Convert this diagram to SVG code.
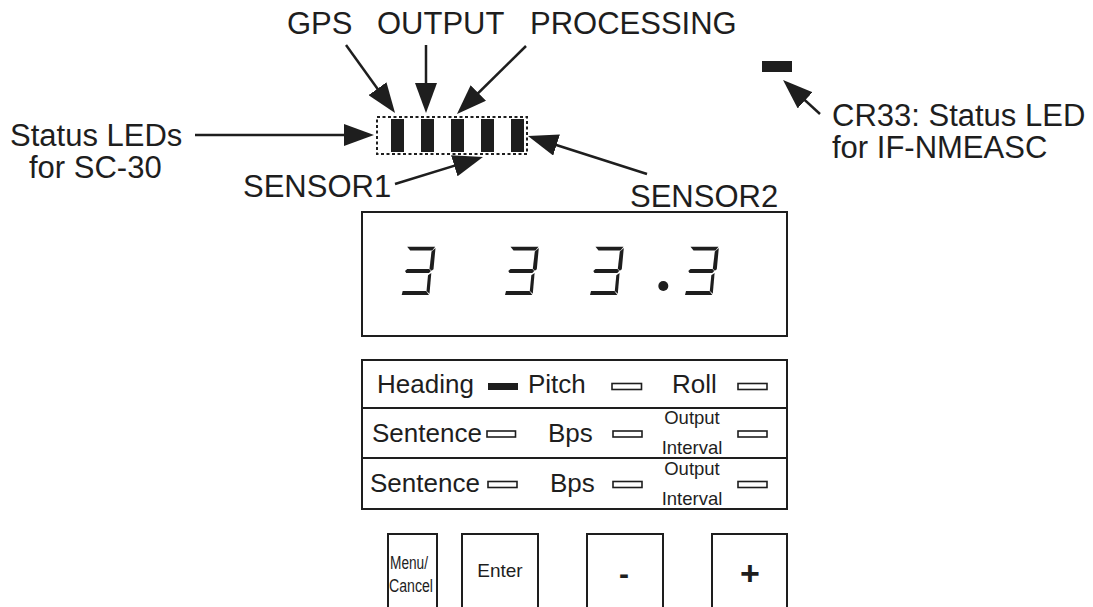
<svg xmlns="http://www.w3.org/2000/svg" width="1093" height="607" viewBox="0 0 1093 607">
<style>
text{font-family:"Liberation Sans",Arial,Helvetica,sans-serif;fill:#1e1e1e}
.big{font-size:31px}
.row{font-size:26px}
.sm{font-size:18.5px}
.box{fill:none;stroke:#1e1e1e;stroke-width:2}
.led{fill:#fff;stroke:#1e1e1e;stroke-width:1.6}
.ledf{fill:#1e1e1e}
.conn line{stroke:#1e1e1e;stroke-width:2.5;marker-end:url(#ah)}
</style>
<defs>
<marker id="ah" markerUnits="userSpaceOnUse" markerWidth="30" markerHeight="22" viewBox="0 0 30 22" refX="20" refY="11" orient="auto">
<path d="M0,0 L30,11 L0,22 z" fill="#1e1e1e"/>
</marker>
<g id="d3" fill="#1e1e1e">
<polygon points="5.5,0 33.5,0 30.5,3.8 8.5,3.8"/>
<polygon points="33.8,1.2 31.8,22.5 29.8,24 27.8,22 29.8,4.8"/>
<polygon points="5.5,22.2 27.5,22.2 29.2,24.2 27.3,26.2 4.5,26.2 3.3,24.2"/>
<polygon points="29.6,26.2 27.8,47 24.8,44.2 26.3,28.5"/>
<polygon points="1,44.4 24.5,44.4 27.3,48.2 0,48.2"/>
</g>
</defs>
<rect width="1093" height="607" fill="#fff"/>

<g id="labels-top">
<text class="big" x="287" y="34">GPS</text>
<text class="big" x="377" y="34">OUTPUT</text>
<text class="big" x="530" y="34">PROCESSING</text>
</g>

<g id="sc30-leds">
<rect x="377" y="117" width="150" height="37" fill="none" stroke="#1e1e1e" stroke-width="2" stroke-dasharray="3 2.5"/>
<rect class="ledf" x="391" y="119" width="13" height="33"/>
<rect class="ledf" x="421" y="119" width="13" height="33"/>
<rect class="ledf" x="451" y="119" width="13" height="33"/>
<rect class="ledf" x="481" y="119" width="13" height="33"/>
<rect class="ledf" x="511" y="119" width="13" height="33"/>
</g>

<g id="label-status">
<text class="big" x="10" y="146">Status LEDs</text>
<text class="big" x="29" y="178">for SC-30</text>
</g>

<g id="label-sensor1"><text class="big" x="243" y="197">SENSOR1</text></g>
<g id="label-sensor2"><text class="big" x="630" y="207">SENSOR2</text></g>

<g id="cr33">
<rect class="ledf" x="762" y="61" width="30" height="11"/>
<text class="big" x="832" y="126">CR33: Status LED</text>
<text class="big" x="832" y="158">for IF-NMEASC</text>
</g>

<g id="connectors" class="conn">
<line x1="346" y1="45" x2="389.2" y2="104.9"/>
<line x1="426" y1="45" x2="426" y2="103"/>
<line x1="526" y1="46" x2="464.1" y2="107"/>
<line x1="195" y1="135" x2="364" y2="135"/>
<line x1="395" y1="184" x2="473.4" y2="159.9"/>
<line x1="647" y1="174" x2="537.5" y2="139"/>
<line x1="820" y1="114" x2="790.4" y2="86.8"/>
</g>

<g id="display">
<rect class="box" x="362" y="212" width="425" height="124"/>
<use href="#d3" x="401.7" y="246.7"/>
<use href="#d3" x="505" y="246.7"/>
<use href="#d3" x="590" y="246.7"/>
<circle cx="663.3" cy="286" r="5" fill="#1e1e1e"/>
<use href="#d3" x="685" y="246.7"/>
</g>

<g id="panel">
<rect class="box" x="362" y="360" width="425" height="149"/>
<line x1="362" y1="408" x2="787" y2="408" stroke="#1e1e1e" stroke-width="2"/>
<line x1="362" y1="458" x2="787" y2="458" stroke="#1e1e1e" stroke-width="2"/>
</g>

<g id="row1">
<text class="row" x="377" y="393">Heading</text>
<rect class="ledf" x="488" y="383" width="30" height="7"/>
<text class="row" x="528" y="393">Pitch</text>
<rect class="led" x="612" y="383.5" width="29.5" height="6"/>
<text class="row" x="672" y="393">Roll</text>
<rect class="led" x="738" y="383.5" width="29" height="6"/>
</g>

<g id="row2">
<text class="row" x="372" y="442">Sentence</text>
<rect class="led" x="487" y="431" width="28.5" height="6"/>
<text class="row" x="548" y="442">Bps</text>
<rect class="led" x="613" y="431" width="29" height="6"/>
<text class="sm" x="692" y="424" text-anchor="middle">Output</text>
<text class="sm" x="692" y="454" text-anchor="middle">Interval</text>
<rect class="led" x="738" y="431" width="29" height="6"/>
</g>

<g id="row3">
<text class="row" x="370" y="492">Sentence</text>
<rect class="led" x="488" y="481.5" width="29" height="6"/>
<text class="row" x="550" y="492">Bps</text>
<rect class="led" x="613" y="481.5" width="29" height="6"/>
<text class="sm" x="692" y="475" text-anchor="middle">Output</text>
<text class="sm" x="692" y="505" text-anchor="middle">Interval</text>
<rect class="led" x="738" y="481.5" width="29" height="6"/>
</g>

<g id="btn-menu">
<path class="box" d="M388,612 V534 H437 V612"/>
<text x="390" y="569" style="font-size:17.5px" textLength="38" lengthAdjust="spacingAndGlyphs">Menu/</text>
<text x="389" y="592" style="font-size:17.5px" textLength="44" lengthAdjust="spacingAndGlyphs">Cancel</text>
</g>
<g id="btn-enter">
<path class="box" d="M462,612 V534 H538 V612"/>
<text x="500" y="577" text-anchor="middle" style="font-size:19px">Enter</text>
</g>
<g id="btn-minus">
<path class="box" d="M587,612 V534 H663 V612"/>
<text x="624" y="584" text-anchor="middle" style="font-size:30px;font-weight:bold">-</text>
</g>
<g id="btn-plus">
<path class="box" d="M712,612 V534 H787 V612"/>
<text x="750" y="585" text-anchor="middle" style="font-size:34px;font-weight:bold">+</text>
</g>
</svg>
